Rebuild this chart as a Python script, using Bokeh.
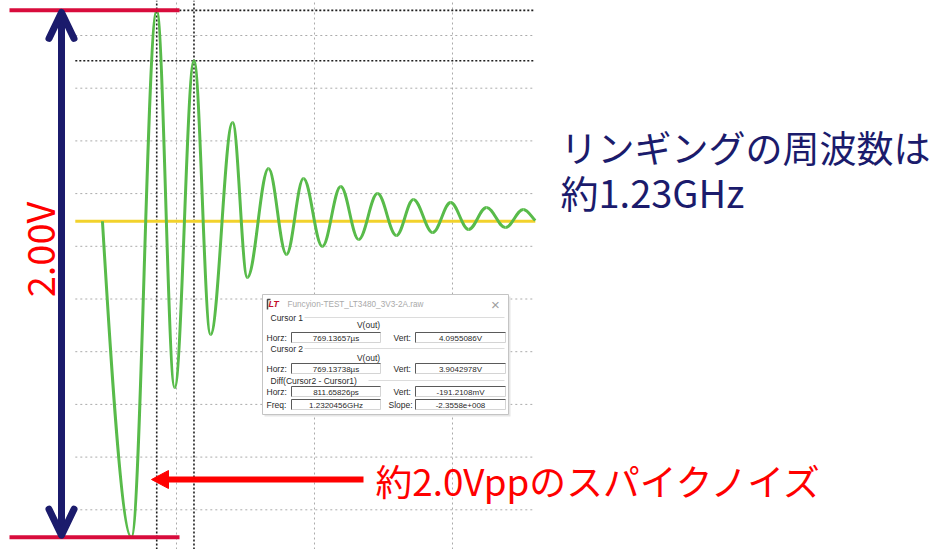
import math
from bokeh.plotting import figure
from bokeh.models import Range1d, Label
from bokeh.embed import file_html
from bokeh.resources import INLINE

# ---------------------------------------------------------------------------
# Data: V(out) ringing after a switching edge (LTspice transient)
# ---------------------------------------------------------------------------
T_REF_US = 769.13  # time origin of the trace window, in microseconds

# extrema of the ringing: time in ns after T_REF_US, voltage in V
trace_t_ns = [5.39, 6.02, 6.57, 6.96, 7.38, 7.74, 8.22, 8.54, 9.00, 9.39,
              9.76, 10.17, 10.57, 10.96, 11.37, 11.78, 12.15, 12.57, 12.96,
              13.35, 13.74, 14.15, 14.54, 14.80]
trace_v = [3.295, 2.0955, 4.0955086, 2.664, 3.9042978, 2.865, 3.670, 3.082,
           3.495, 3.169, 3.457, 3.199, 3.427, 3.226, 3.400, 3.241, 3.378,
           3.252, 3.366, 3.264, 3.347, 3.271, 3.340, 3.298]

settle_v = 3.295                      # steady output level (yellow trace)
trace_window_ns = [4.80, 14.80]       # visible span of the traces
time_grid_ns = [7, 10, 13]            # 3 ns grid
volt_grid = [2.2, 2.4, 2.6, 2.8, 3.0, 3.2, 3.4, 3.6, 3.8, 4.0]

# cursor read-outs
cursor_names = ["Cursor 1", "Cursor 2"]
cursor_time_us = [769.13657, 769.13738]
cursor_time_txt = ["769.13657µs", "769.13738µs"]
cursor_volt = [4.0955086, 3.9042978]
cursor_volt_txt = ["4.0955086V", "3.9042978V"]
diff_horz = "811.65826ps"
diff_vert = "-191.2108mV"
diff_freq = "1.2320456GHz"
diff_slope = "-2.3558e+008"
raw_file = "Funcyion-TEST_LT3480_3V3-2A.raw"

spike_pp = 2.00                        # peak-to-peak of the first spike, V

# ---------------------------------------------------------------------------
W, H = 934, 549
XR = (3.1739, 23.4783)
YR = (2.04934, 4.13283)

def px_x(px):
    return XR[0] + px * (XR[1] - XR[0]) / W

def px_y(py):
    return YR[1] - py * (YR[1] - YR[0]) / H

p = figure(width=W, height=H, x_range=Range1d(*XR), y_range=Range1d(*YR),
           output_backend="svg", toolbar_location=None, min_border=0,
           x_axis_location=None, y_axis_location=None)
p.grid.visible = False
p.outline_line_color = None
p.background_fill_color = "white"
p.border_fill_color = "white"

GRID = "#ABABAB"
GREEN = "#58BB4A"
YELLOW = "#F2D22C"
NAVY = "#1B1B6C"
CRIMSON = "#D80C3C"
RED = "#FF0000"
JP = "Noto Sans CJK JP"
UI = "Liberation Sans"

# grid
p.segment(x0=trace_window_ns[0], x1=trace_window_ns[1], y0=volt_grid, y1=volt_grid,
          line_color=GRID, line_width=1, line_dash="2 3")
p.segment(x0=time_grid_ns, x1=time_grid_ns, y0=YR[0], y1=YR[1],
          line_color=GRID, line_width=1, line_dash="2 3")

# cursors
cur_t = [(c - T_REF_US) * 1000.0 for c in cursor_time_us]
p.segment(x0=cur_t, x1=cur_t, y0=YR[0], y1=YR[1],
          line_color="#1E1E1E", line_width=1.6, line_dash="2 2")
p.segment(x0=trace_window_ns[0], x1=trace_window_ns[1], y0=cursor_volt, y1=cursor_volt,
          line_color="#1E1E1E", line_width=1.6, line_dash="2 2")

# settled level
p.line(trace_window_ns, [settle_v, settle_v], line_color=YELLOW, line_width=3)

# V(out): half-cycle curves between successive extrema
x0, y0, x1, y1, cx0, cy0, cx1, cy1 = ([] for _ in range(8))
n = len(trace_t_ns)
for i in range(n - 1):
    ta, va = trace_t_ns[i], trace_v[i]
    tb, vb = trace_t_ns[i + 1], trace_v[i + 1]
    d = 0.3642 * (tb - ta)
    ca = (ta + d, va)
    cb = (tb - d, vb)
    if i == 0:                      # trace enters falling, not from a turning point
        ca = (ta + 0.2 * (tb - ta), va + 0.3 * (vb - va))
    if i == n - 2:                  # trace leaves the window mid-swing
        cb = (tb - 0.3 * (tb - ta), vb + 0.3 * (va - vb))
    x0.append(ta); y0.append(va); x1.append(tb); y1.append(vb)
    cx0.append(ca[0]); cy0.append(ca[1]); cx1.append(cb[0]); cy1.append(cb[1])
p.bezier(x0=x0, y0=y0, x1=x1, y1=y1, cx0=cx0, cy0=cy0, cx1=cx1, cy1=cy1,
         line_color=GREEN, line_width=3)

# ---------------------------------------------------------------------------
# peak-to-peak annotation
v_top = cursor_volt[0]
v_bot = cursor_volt[0] - spike_pp
p.segment(x0=[px_x(9)] * 2, x1=[px_x(179)] * 2, y0=[v_top, v_bot], y1=[v_top, v_bot],
          line_color=CRIMSON, line_width=4)
ax = px_x(61)
p.line([ax, ax], [v_top - 0.008, v_bot + 0.008], line_color=NAVY, line_width=7)
head_dy = 26 * (YR[1] - YR[0]) / H
head_dx = 12.5 * (XR[1] - XR[0]) / W
p.multi_line(xs=[[ax - head_dx, ax, ax + head_dx], [ax - head_dx, ax, ax + head_dx]],
             ys=[[v_top - 0.008 - head_dy, v_top - 0.008, v_top - 0.008 - head_dy],
                 [v_bot + 0.008 + head_dy, v_bot + 0.008, v_bot + 0.008 + head_dy]],
             line_color=NAVY, line_width=7, line_cap="round", line_join="round")
p.add_layout(Label(x=px_x(38), y=px_y(249), text=f"{spike_pp:.2f}V", angle=math.pi / 2,
                   text_font=JP, text_font_size="38px", text_color=RED,
                   text_align="center", text_baseline="middle"))

# spike arrow + caption
ay = px_y(479)
p.line([px_x(164), px_x(363)], [ay, ay], line_color=RED, line_width=6)
p.patch([px_x(151), px_x(168), px_x(168)], [ay, px_y(470), px_y(488)],
        fill_color=RED, line_color=RED)
p.add_layout(Label(x=px_x(375), y=ay, text="約2.0Vppのスパイクノイズ",
                   text_font=JP, text_font_size="36.8px", text_color=RED,
                   text_align="left", text_baseline="middle"))

# ringing frequency caption
p.add_layout(Label(x=px_x(560), y=px_y(146), text="リンギングの周波数は",
                   text_font=JP, text_font_size="37px", text_color=NAVY,
                   text_align="left", text_baseline="middle"))
p.add_layout(Label(x=px_x(560), y=px_y(191), text="約1.23GHz",
                   text_font=JP, text_font_size="38px", text_color=NAVY,
                   text_align="left", text_baseline="middle"))

# ---------------------------------------------------------------------------
# cursor read-out window
def box(l, t, r, b, **kw):
    p.quad(left=px_x(l), right=px_x(r), top=px_y(t), bottom=px_y(b), **kw)

def txt(x, y, s, size="8px", color="#2A2A2A", align="left", style="normal"):
    p.add_layout(Label(x=px_x(x), y=px_y(y), text=s, text_font=UI, text_font_size=size,
                       text_color=color, text_align=align, text_baseline="middle",
                       text_font_style=style))

def hline(xa, xb, y, color, w=1):
    p.line([px_x(xa), px_x(xb)], [px_y(y), px_y(y)], line_color=color, line_width=w)

def field(l, r, yc, s):
    box(l, yc - 5, r, yc + 5, fill_color="white", line_color="#D4D4D4", line_width=1)
    p.line([px_x(l), px_x(l), px_x(r)], [px_y(yc + 5), px_y(yc - 5), px_y(yc - 5)],
           line_color="#5A5A5A", line_width=1)
    txt((l + r) / 2, yc + 0.5, s, align="center")

box(264, 296, 510, 416, fill_color="#E6E6E6", line_color=None)   # soft shadow
box(262, 294, 508, 414, fill_color="white", line_color="#C4C4C4", line_width=1)

# title bar
p.line([px_x(267), px_x(267), px_x(270)], [px_y(309), px_y(299), px_y(299)],
       line_color="#4A4A4A", line_width=1.5)
txt(268, 303, "LT", size="9px", color="#C4102C", style="bold italic")
txt(287, 304, raw_file, size="8.2px", color="#A9A9A9")
txt(495, 304, "×", size="15px", color="#A0A0A0", align="center")

rows = [(317, 324, 337), (348, 357, 368)]
for k, (gy, vy, ry) in enumerate(rows):
    txt(270, gy, cursor_names[k], size="8.5px")
    hline(304, 504, gy, "#DCDCDC")
    txt(368, vy, "V(out)", size="8.5px", align="center")
    txt(266, ry, "Horz:", size="8.5px")
    field(291, 380, ry, cursor_time_txt[k])
    txt(393, ry, "Vert:", size="8.5px")
    field(415, 505, ry, cursor_volt_txt[k])

txt(270, 380, "Diff(Cursor2 - Cursor1)", size="8.5px")
hline(368, 504, 380, "#DCDCDC")
txt(266, 391, "Horz:", size="8.5px")
field(291, 380, 391, diff_horz)
txt(393, 391, "Vert:", size="8.5px")
field(415, 505, 391, diff_vert)
txt(266, 404, "Freq:", size="8.5px")
field(291, 380, 404, diff_freq)
txt(388, 404, "Slope:", size="8.5px")
field(415, 505, 404, diff_slope)

open("out.html", "w").write(file_html(p, INLINE))
